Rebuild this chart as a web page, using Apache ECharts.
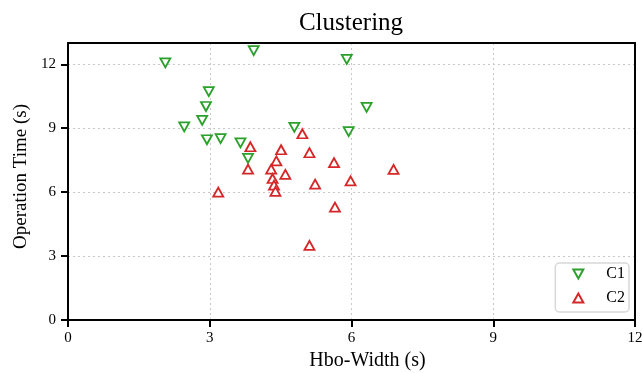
<!DOCTYPE html>
<html>
<head>
<meta charset="utf-8">
<script src="https://cdn.jsdelivr.net/npm/echarts@6/dist/echarts.min.js"></script>
<style>
  html, body { margin: 0; padding: 0; background: #fff; }
  #chart { width: 642px; height: 373px; }
</style>
</head>
<body>
<div id="chart"></div>
<script>
// Cluster C1: Hbo-width (s) and operation time (s)
const c1Width = [2.06, 3.93, 5.90, 2.98, 2.92, 2.84, 2.46, 6.32, 4.79, 5.94, 2.94, 3.23, 3.65, 3.81];
const c1Time  = [12.07, 12.64, 12.23, 10.72, 10.02, 9.37, 9.06, 9.98, 9.04, 8.84, 8.46, 8.51, 8.31, 7.59];

// Cluster C2
const c2Width = [4.96, 3.86, 4.51, 5.11, 4.41, 5.63, 3.81, 4.30, 6.89, 4.60, 4.33, 5.98, 5.23, 4.36, 4.39, 3.18, 5.65, 5.11];
const c2Time  = [8.74, 8.13, 7.99, 7.85, 7.47, 7.39, 7.08, 7.08, 7.07, 6.83, 6.64, 6.53, 6.38, 6.33, 6.04, 6.00, 5.30, 3.50];

const seriesNames = ['C1', 'C2'];
const tickValues = [0, 3, 6, 9, 12];

const pairs = (xs, ys) => xs.map((x, i) => [x, ys[i]]);

const serif = 'Liberation Serif, Times New Roman, serif';
const green = '#2ca02c';
const red = '#d62728';

const axisLine = { show: true, onZero: false, lineStyle: { color: '#000', width: 2 } };
const axisTick = { show: true, inside: false, length: 7, lineStyle: { color: '#000', width: 2 } };
const splitLine = { show: true, lineStyle: { color: '#c8c8c8', type: [2, 3], width: 1 } };
const labelStyle = { color: '#000', fontFamily: serif, fontSize: 15 };

// frame-only axes for the top and right edges of the plot box
const frameAxis = {
  axisLine: axisLine,
  axisTick: { show: false },
  axisLabel: { show: false },
  splitLine: { show: false }
};

const chart = echarts.init(document.getElementById('chart'), null, { renderer: 'canvas' });
chart.setOption({
  animation: false,
  backgroundColor: '#fff',
  title: {
    text: 'Clustering',
    left: 346, top: 6, textAlign: 'center',
    textStyle: { color: '#000', fontFamily: serif, fontSize: 25, fontWeight: 'normal' }
  },
  grid: { left: 68, right: 7, top: 43, bottom: 53, containLabel: false, outerBoundsMode: 'none' },
  xAxis: [
    {
      type: 'value', min: 0, max: 12, interval: 3,
      axisLine, axisTick, splitLine,
      axisLabel: Object.assign({ margin: 11 }, labelStyle),
      name: 'Hbo-Width (s)', nameLocation: 'middle', nameGap: 29,
      nameTextStyle: { color: '#000', fontFamily: serif, fontSize: 20, padding: [0, 0, 0, 32] }
    },
    Object.assign({ type: 'value', position: 'top', min: 0, max: 12 }, frameAxis)
  ],
  yAxis: [
    {
      type: 'value', min: 0, max: 13, interval: 3,
      axisLine,
      axisTick: Object.assign({ customValues: tickValues }, axisTick),
      splitLine,
      axisLabel: Object.assign({ margin: 12, customValues: tickValues }, labelStyle),
      name: 'Operation Time (s)', nameLocation: 'middle', nameGap: 29,
      nameTextStyle: { color: '#000', fontFamily: serif, fontSize: 19, padding: [0, 0, 0, 10] }
    },
    Object.assign({ type: 'value', position: 'right', min: 0, max: 13 }, frameAxis)
  ],
  legend: {
    right: 13, bottom: 61,
    orient: 'vertical',
    data: [
      { name: seriesNames[0], icon: 'path://M0,0L10,0L5,9Z' },
      { name: seriesNames[1], icon: 'path://M5,0L10,9L0,9Z' }
    ],
    itemWidth: 10, itemHeight: 9, itemGap: 8,
    padding: [3, 4, 6, 17],
    borderColor: '#d8d8d8', borderWidth: 1.5, borderRadius: 4,
    backgroundColor: '#fff',
    textStyle: { color: '#000', fontFamily: serif, fontSize: 16, padding: [0, 0, 0, 18] }
  },
  series: [
    {
      name: seriesNames[0], type: 'scatter',
      data: pairs(c1Width, c1Time),
      symbol: 'triangle', symbolRotate: 180, symbolSize: [10, 9],
      itemStyle: { color: '#fff', borderColor: green, borderWidth: 1.8, opacity: 1 }
    },
    {
      name: seriesNames[1], type: 'scatter',
      data: pairs(c2Width, c2Time),
      symbol: 'triangle', symbolSize: [10, 9],
      itemStyle: { color: '#fff', borderColor: red, borderWidth: 1.8, opacity: 1 }
    }
  ]
});
</script>
</body>
</html>
